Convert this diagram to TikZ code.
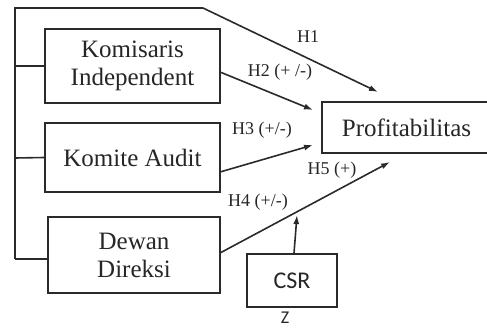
\documentclass[tikz,border=0pt]{standalone}
\usepackage{fontspec}
\setmainfont{Liberation Serif}
\newfontfamily\csrfont{Carlito}
\usetikzlibrary{arrows.meta}
\definecolor{ink}{HTML}{2A2A2A}
\definecolor{txt}{HTML}{262626}
\begin{document}
\begin{tikzpicture}[x=1pt,y=-1pt,
  box/.style={draw=ink,line width=1.8pt,minimum width=#1,inner sep=0pt,text=txt,align=center,
    font=\fontsize{25}{28}\selectfont},
  line/.style={draw=ink,line width=1.6pt},
  arr/.style={line,-{Latex[length=9pt,width=6pt]}},
  lab/.style={text=txt,font=\fontsize{18}{20}\selectfont,inner sep=0pt}]
\useasboundingbox (0,0) rectangle (487,327);
\begin{scope}
\clip (0,0) rectangle (487,327);
\node[box=175pt,minimum height=74pt] (kom) at (132.5,66) {Komisaris\\Independent};
\node[box=175pt,minimum height=69pt] (aud) at (132.5,157.5) {Komite Audit};
\node[box=172pt,minimum height=76pt] (dew) at (134,255) {Dewan\\Direksi};
\node[box=169pt,minimum height=51pt] (prof) at (406.5,127.5) {Profitabilitas};
\node[box=90pt,minimum height=53pt,font=\csrfont\fontsize{24}{26}\selectfont] (csr) at (292,280.5) {CSR};

\coordinate (tl) at (15,8);
\coordinate (tb) at (15,259);
\coordinate (tk) at (203,8);
\coordinate (h1t) at (378,92);
\draw[line] (tb) -- (tl) -- (tk);
\draw[arr] (tk) -- (h1t);
\coordinate (b1) at (15,66);
\coordinate (b2) at (15,158);
\draw[line] (b1) -- (kom.west);
\draw[line] (b2) -- (aud.west);
\draw[line] (tb) -- (dew.west |- tb);

\coordinate (h2s) at (220,72);
\coordinate (h2t) at (313,110);
\coordinate (h3s) at (220,172);
\coordinate (h3t) at (313,145);
\coordinate (h4s) at (220,253);
\coordinate (h4t) at (390,162);
\coordinate (zt) at (297,215);
\path (csr.north) ++(2,0) coordinate (zs);
\draw[arr] (h2s) -- (h2t);
\draw[arr] (h3s) -- (h3t);
\draw[arr] (h4s) -- (h4t);
\draw[arr] (zs) -- (zt);

\node[lab] (l1) at (308,37) {H1};
\node[lab] (l2) at (280,72) {H2 (+ /-)};
\node[lab] (l3) at (262,130) {H3 (+/-)};
\node[lab] (l5) at (332,170) {H5 (+)};
\node[lab] (l4) at (258,202) {H4 (+/-)};
\node[lab,font=\csrfont\fontsize{18}{20}\selectfont] (lz) at (285,318) {Z};
\end{scope}
\end{tikzpicture}
\end{document}
